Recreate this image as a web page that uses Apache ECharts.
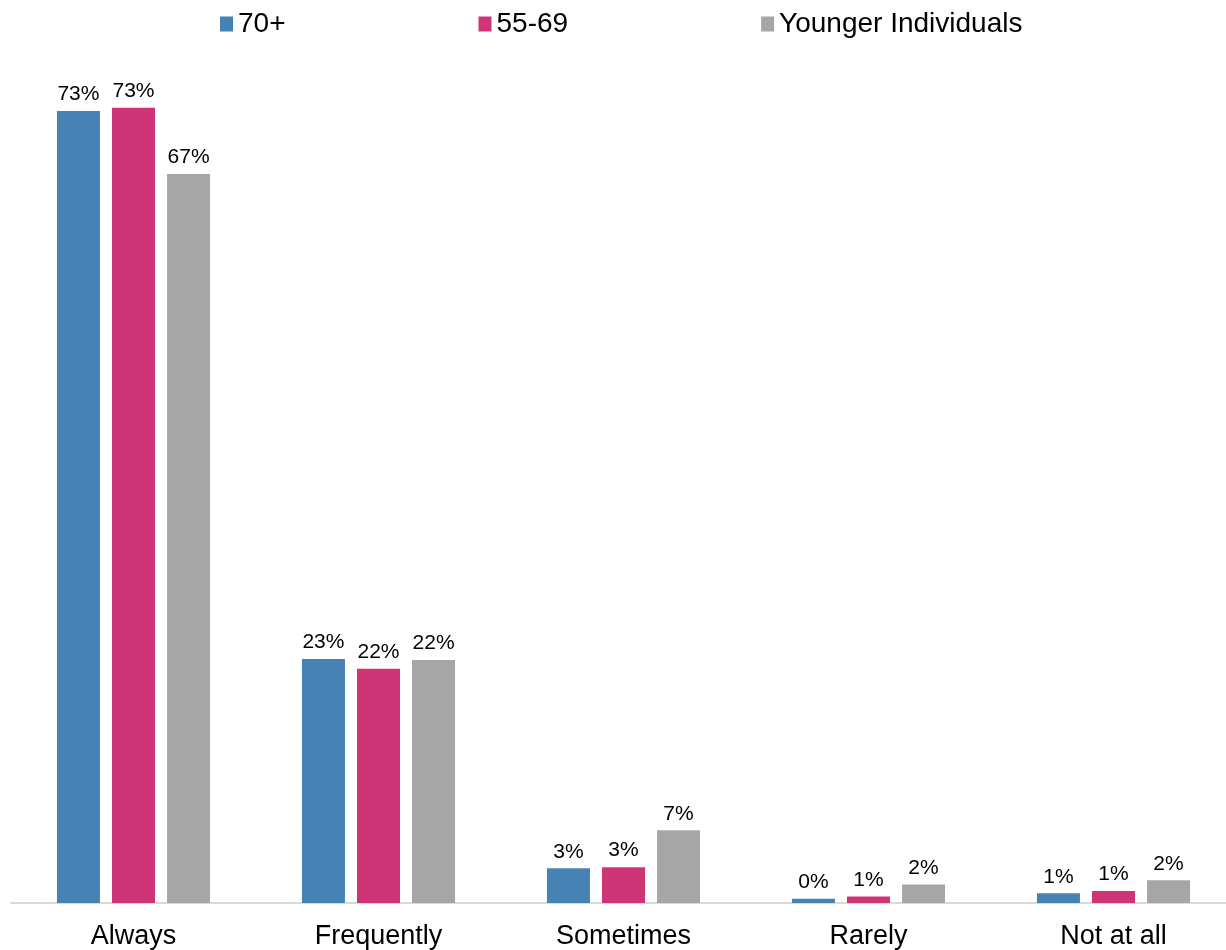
<!DOCTYPE html>
<html>
<head>
<meta charset="utf-8">
<script src="https://cdn.jsdelivr.net/npm/echarts@6/dist/echarts.min.js"></script>
<style>
  html, body { margin: 0; padding: 0; background: #fff; overflow: hidden; }
</style>
</head>
<body>
<!-- a little wider than the window: the last group runs slightly past the right edge in the original -->
<div id="main" style="width: 1240px; height: 950px"></div>
<script>
const categories = ["Always", "Frequently", "Sometimes", "Rarely", "Not at all"];
const seriesNames = ["70+", "55-69", "Younger Individuals"];
const values70 = [73.0, 22.5, 3.2, 0.4, 0.9];
const values5569 = [73.3, 21.6, 3.3, 0.6, 1.1];
const valuesYounger = [67.2, 22.4, 6.7, 1.7, 2.1];
const colors = ["#4682b4", "#cf3476", "#a6a6a6"];

const font = "Liberation Sans, Arial, sans-serif";

function barSeries(name, data, color) {
  return {
    name: name,
    type: "bar",
    data: data,
    barWidth: 43,
    barGap: "28%",
    itemStyle: { color: color },
    label: {
      show: true,
      position: "top",
      distance: 6,
      fontFamily: font,
      fontSize: 21,
      color: "#000",
      formatter: (p) => Math.round(p.value) + "%",
    },
  };
}

let myChart = echarts.init(document.getElementById("main"));
myChart.setOption({
  backgroundColor: "#fff",
  animation: false,
  color: colors,
  legend: {
    top: 5,
    left: 215,
    itemWidth: 13,
    itemHeight: 15,
    itemGap: 193,
    icon: "rect",
    textStyle: { fontFamily: font, fontSize: 28, color: "#000" },
    data: seriesNames,
  },
  grid: {
    left: 11,
    width: 1225,
    top: 35,
    bottom: 47,
    containLabel: false,
  },
  xAxis: {
    type: "category",
    data: categories,
    axisTick: { show: false },
    axisLine: { lineStyle: { color: "#d9d9d9", width: 2 } },
    axisLabel: {
      margin: 20,
      fontFamily: font,
      fontSize: 27,
      color: "#000",
    },
  },
  yAxis: {
    type: "value",
    min: 0,
    max: 80,
    show: false,
    splitLine: { show: false },
  },
  series: [
    barSeries(seriesNames[0], values70, colors[0]),
    barSeries(seriesNames[1], values5569, colors[1]),
    barSeries(seriesNames[2], valuesYounger, colors[2]),
  ],
});
</script>
</body>
</html>
